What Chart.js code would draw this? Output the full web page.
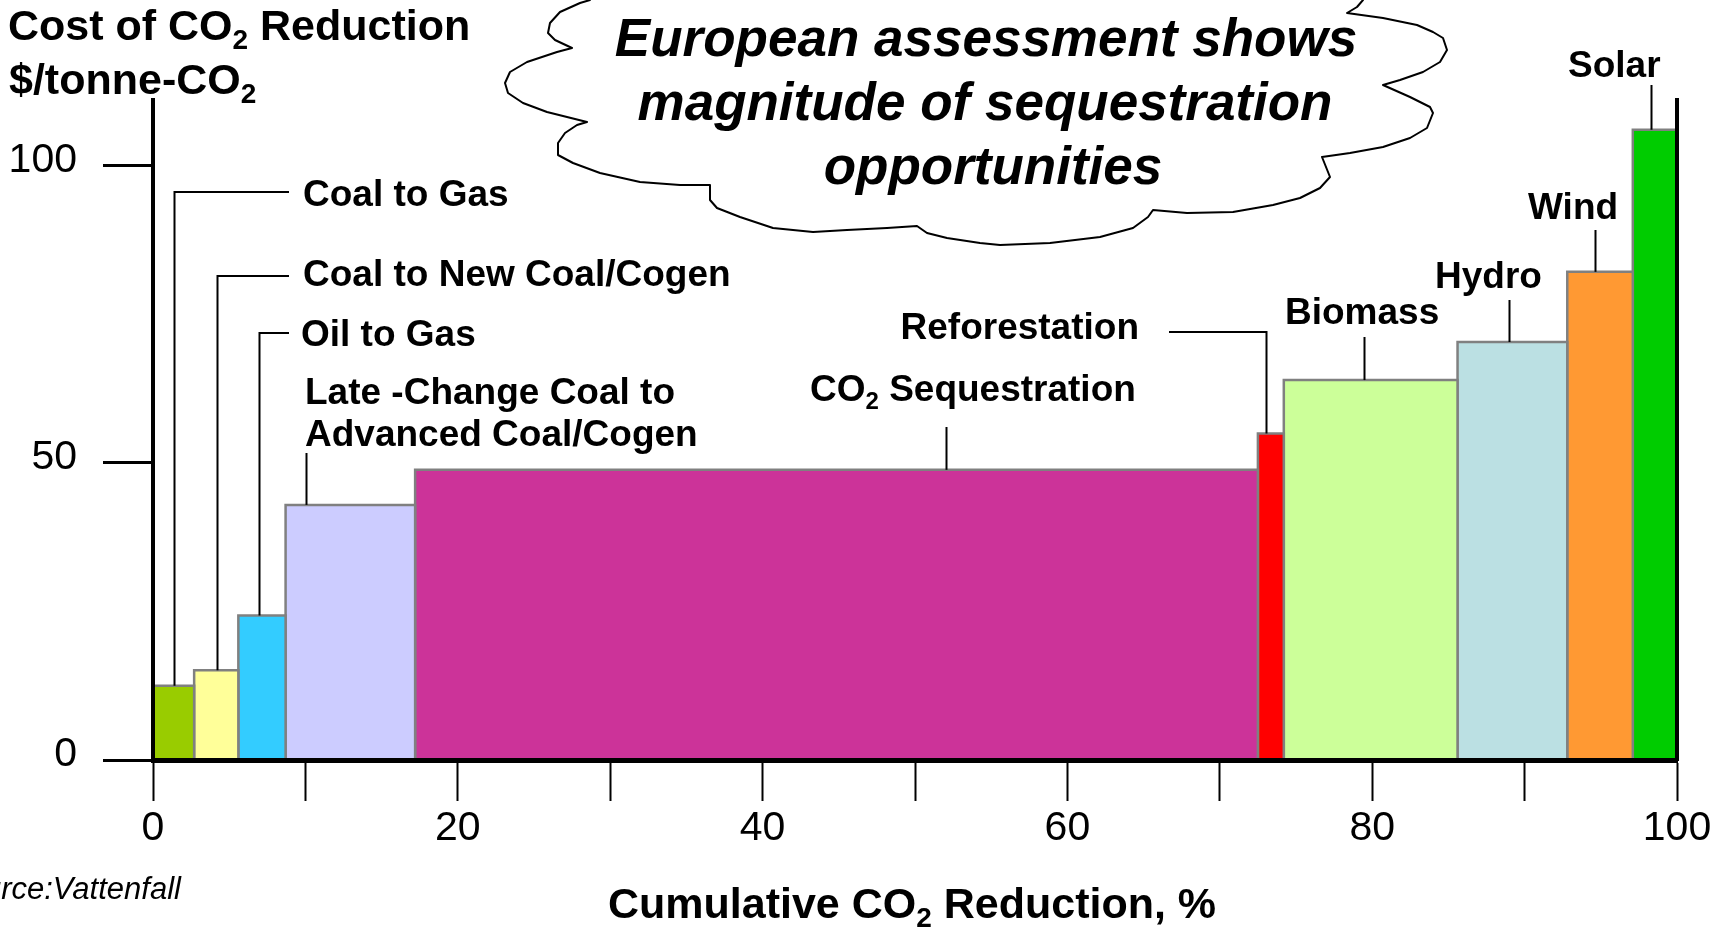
<!DOCTYPE html>
<html>
<head>
<meta charset="utf-8">
<title>Cost of CO2 Reduction</title>
<script src="https://cdn.jsdelivr.net/npm/chart.js@4.4.1/dist/chart.umd.min.js"></script>
<style>
  html, body { margin: 0; padding: 0; background: #fff; }
  #wrap { width: 1729px; height: 927px; }
</style>
</head>
<body>
<div id="wrap"><canvas id="costChart" width="1729" height="927"></canvas></div>
<script>
const categories = ['Coal to Gas', 'Coal to New Coal/Cogen', 'Oil to Gas', 'Late -Change Coal to Advanced Coal/Cogen',
  'CO₂ Sequestration', 'Reforestation', 'Biomass', 'Hydro', 'Wind', 'Solar'];
const reductionShare = [2.7, 2.9, 3.1, 8.5, 55.3, 1.7, 11.4, 7.2, 4.3, 2.9];   // % of total reduction
const costPerTonne = [12.5, 15.1, 24.3, 42.9, 48.8, 54.9, 63.9, 70.3, 82.1, 106.0]; // $/tonne-CO2
const barColors = ['#99cc00', '#ffff99', '#33ccff', '#ccccff', '#cc3399', '#ff0000', '#ccff99', '#bbe0e3', '#ff9933', '#00cc00'];
const xTickMarks = [0, 10, 20, 30, 40, 50, 60, 70, 80, 90, 100];
const xTickLabels = [0, 20, 40, 60, 80, 100];
const yTickLabels = [0, 50, 100];

const FONT = "'Liberation Sans', Arial, Helvetica, sans-serif";

// left/right edge of every block on the cumulative axis
const edges = [0];
reductionShare.forEach((w, i) => edges.push(edges[i] + w));

const datasets = categories.map((name, i) => ({
  label: name,
  yAxisID: 'y',
  data: [
    {x: edges[i], y: 0},
    {x: edges[i], y: costPerTonne[i]},
    {x: edges[i + 1], y: costPerTonne[i]},
    {x: edges[i + 1], y: 0}
  ],
  backgroundColor: barColors[i],
  borderColor: '#808080',
  borderWidth: 2.5,
  borderJoinStyle: 'miter',
  fill: 'origin',
  pointRadius: 0,
  tension: 0
}));

// where each callout text sits; `at` = position of the leader inside its block
const callouts = [
  {at: 0.5,  up: 192, to: 289,  x: 303,  lines: ['Coal to Gas'], base: [206]},
  {at: 0.52, up: 276, to: 289,  x: 303,  lines: ['Coal to New Coal/Cogen'], base: [286]},
  {at: 0.44, up: 333, to: 289,  x: 301,  lines: ['Oil to Gas'], base: [346]},
  {at: 0.155, up: 453,          x: 305,  lines: ['Late -Change Coal to', 'Advanced Coal/Cogen'], base: [404, 446]},
  {at: 0.63, up: 427,           x: 810,  lines: ['CO₂ Sequestration'], base: [401]},
  {at: 0.32, up: 332, to: 1169, x: 1139, lines: ['Reforestation'], base: [339], align: 'right'},
  {at: 0.46, up: 337,           x: 1285, lines: ['Biomass'], base: [324]},
  {at: 0.47, up: 300,           x: 1435, lines: ['Hydro'], base: [288]},
  {at: 0.42, up: 230,           x: 1528, lines: ['Wind'], base: [219]},
  {at: 0.41, up: 85,            x: 1568, lines: ['Solar'], base: [77]}
];

const cloudOutline = [
  [590,-6],[590,0],[580,3],[560,12],[550,23],[548,33],[555,40],[572,48],[557,52],[527,62],[510,72],[505,83],
  [508,93],[523,103],[547,112],[587,122],[577,125],[565,133],[558,143],[558,155],[573,163],[600,173],[640,182],
  [680,185],[710,185],[710,200],[717,208],[740,217],[773,228],[813,232],[847,230],[887,228],[917,226],[927,233],
  [947,238],[980,243],[1000,245],[1050,243],[1100,237],[1133,228],[1148,217],[1153,210],[1187,213],[1233,212],
  [1273,205],[1300,198],[1320,188],[1330,177],[1322,157],[1350,153],[1383,147],[1410,138],[1427,128],[1433,113],
  [1430,107],[1410,97],[1383,85],[1400,80],[1423,72],[1440,62],[1447,50],[1443,38],[1433,32],[1417,25],[1383,18],
  [1347,13],[1357,7],[1363,0],[1365,-6]
];

// text with a lowered small "2" for CO₂
function drawRich(ctx, str, x, y, size, style, align) {
  const parts = str.split(/(₂)/).filter(s => s);
  const fontOf = sub => `${style} ${sub ? Math.round(size * 0.65) : size}px ${FONT}`;
  let total = 0;
  parts.forEach(p => {
    ctx.font = fontOf(p === '₂');
    total += ctx.measureText(p === '₂' ? '2' : p).width;
  });
  let cx = align === 'right' ? x - total : align === 'center' ? x - total / 2 : x;
  ctx.textAlign = 'left';
  ctx.textBaseline = 'alphabetic';
  parts.forEach(p => {
    const sub = p === '₂';
    const t = sub ? '2' : p;
    ctx.font = fontOf(sub);
    ctx.fillText(t, cx, sub ? y + size * 0.22 : y);
    cx += ctx.measureText(t).width;
  });
}

const decorations = {
  id: 'decorations',
  afterDraw(chart) {
    const ctx = chart.ctx;
    const xs = chart.scales.x, ys = chart.scales.y;
    ctx.save();
    ctx.fillStyle = '#000';

    // callouts with leader lines
    ctx.strokeStyle = '#000';
    ctx.lineWidth = 2;
    callouts.forEach((c, i) => {
      const bx = Math.round(xs.getPixelForValue(edges[i] + c.at * reductionShare[i])) + 0.5;
      const by = ys.getPixelForValue(costPerTonne[i]);
      ctx.beginPath();
      ctx.moveTo(bx, by);
      ctx.lineTo(bx, c.up);
      if (c.to) ctx.lineTo(c.to, c.up);
      ctx.stroke();
      c.lines.forEach((line, k) => drawRich(ctx, line, c.x, c.base[k], 37, 'bold', c.align || 'left'));
    });

    // axis titles
    drawRich(ctx, 'Cost of CO₂ Reduction', 8, 40, 43, 'bold', 'left');
    drawRich(ctx, '$/tonne-CO₂', 9, 94, 43, 'bold', 'left');
    drawRich(ctx, 'Cumulative CO₂ Reduction, %', 608, 918, 43, 'bold', 'left');
    drawRich(ctx, 'Source:Vattenfall', -54, 899, 31, 'italic', 'left');

    // callout cloud
    ctx.beginPath();
    cloudOutline.forEach(([px, py], k) => k ? ctx.lineTo(px, py) : ctx.moveTo(px, py));
    ctx.closePath();
    ctx.fillStyle = '#fff';
    ctx.fill();
    ctx.lineWidth = 2;
    ctx.lineJoin = 'round';
    ctx.stroke();
    ctx.fillStyle = '#000';
    drawRich(ctx, 'European assessment shows', 986, 56, 53, 'italic bold', 'center');
    drawRich(ctx, 'magnitude of sequestration', 985, 120, 53, 'italic bold', 'center');
    drawRich(ctx, 'opportunities', 993, 184, 53, 'italic bold', 'center');
    ctx.restore();
  }
};

const tickFont = {family: FONT, size: 41};

new Chart(document.getElementById('costChart'), {
  type: 'line',
  data: {datasets: datasets},
  options: {
    responsive: false,
    animation: false,
    events: [],
    layout: {padding: {top: 100, right: 52, bottom: 0, left: 0}},
    plugins: {legend: {display: false}, tooltip: {enabled: false}},
    scales: {
      x: {
        type: 'linear',
        min: 0,
        max: 100,
        afterBuildTicks: s => { s.ticks = xTickMarks.map(v => ({value: v})); },
        afterFit: s => { s.height = 167; },
        ticks: {
          font: tickFont,
          color: '#000',
          padding: 3,
          maxRotation: 0,
          autoSkip: false,
          callback: v => xTickLabels.includes(v) ? String(v) : ''
        },
        grid: {drawOnChartArea: false, tickLength: 41, tickWidth: 2, tickColor: '#000'},
        border: {display: true, color: '#000', width: 5, z: 1}
      },
      y: {
        type: 'linear',
        min: 0,
        max: 111,
        afterBuildTicks: s => { s.ticks = yTickLabels.map(v => ({value: v})); },
        afterFit: s => { s.width = 153; },
        ticks: {font: tickFont, color: '#000', padding: 26, labelOffset: -5},
        grid: {drawOnChartArea: false, tickLength: 50, tickWidth: 3, tickColor: '#000'},
        border: {display: true, color: '#000', width: 4, z: 1}
      },
      yRight: {
        type: 'linear',
        position: 'right',
        min: 0,
        max: 111,
        afterFit: s => { s.width = 0; },
        ticks: {display: false},
        grid: {display: false},
        border: {display: true, color: '#000', width: 4, z: 1}
      }
    }
  },
  plugins: [decorations]
});
</script>
</body>
</html>
